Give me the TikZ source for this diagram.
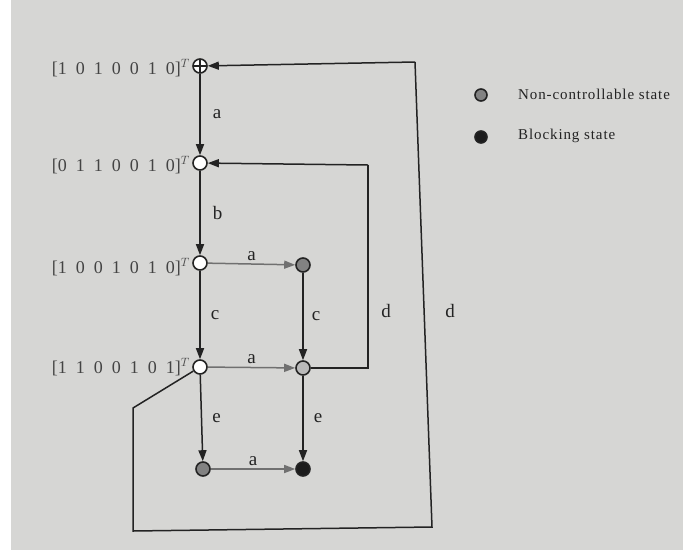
\documentclass[tikz,border=0pt]{standalone}
\usepackage{fontspec}
\setmainfont{Liberation Serif}
\usetikzlibrary{arrows.meta}
\definecolor{bg}{RGB}{214,214,212}
\definecolor{ink}{RGB}{35,35,35}
\definecolor{ncgray}{RGB}{130,130,130}
\tikzset{
  x=1pt, y=-1pt,
  st/.style={circle, draw=ink, line width=1.6pt, minimum size=14pt, inner sep=0pt},
  openst/.style={st, fill=white},
  ncst/.style={st, fill=ncgray},
  blockst/.style={st, fill=ink!80!black},
  edge/.style={draw=ink, line width=1.5pt, -{Triangle[length=11pt,width=8pt]}},
  hedge/.style={edge, draw=ink!65},
  loopline/.style={draw=ink, line width=1.5pt},
  lab/.style={font=\fontsize{19}{19}\selectfont, text=ink, inner sep=2pt},
  vec/.style={font=\fontsize{18}{18}\selectfont, text=ink!85, anchor=east, inner sep=0pt},
  legtext/.style={font=\fontsize{15}{15}\addfontfeatures{LetterSpace=6}\selectfont, text=ink, anchor=west, inner sep=0pt}
}
\begin{document}
\begin{tikzpicture}
\useasboundingbox (0,0) rectangle (683,550);
\fill[white] (0,0) rectangle (683,550);
\fill[bg] (11,0) rectangle (683,550);

% states
\node[st, fill=white, path picture={\draw[ink, line width=1.2pt] (path picture bounding box.north) -- (path picture bounding box.south) (path picture bounding box.west) -- (path picture bounding box.east);}] (A) at (200,66) {};
\node[openst] (B) at (200,163) {};
\node[openst] (C) at (200,263) {};
\node[openst] (D) at (200,367) {};
\node[ncst] (E) at (303,265) {};
\node[st, fill=ncgray!55] (F) at (303,368) {};
\node[ncst] (G) at (203,469) {};
\node[blockst] (H) at (303,469) {};

% marking vectors
\node[vec] (vA) at (190,68) {[1\,\,\,0\,\,\,1\,\,\,0\,\,\,0\,\,\,1\,\,\,0]$^{T}$};
\node[vec] (vB) at (190,165) {[0\,\,\,1\,\,\,1\,\,\,0\,\,\,0\,\,\,1\,\,\,0]$^{T}$};
\node[vec] (vC) at (190,267) {[1\,\,\,0\,\,\,0\,\,\,1\,\,\,0\,\,\,1\,\,\,0]$^{T}$};
\node[vec] (vD) at (190,367) {[1\,\,\,1\,\,\,0\,\,\,0\,\,\,1\,\,\,0\,\,\,1]$^{T}$};

% transitions
\draw[edge] (A) -- node[lab, right=10pt] {a} (B);
\draw[edge] (B) -- node[lab, right=10pt] {b} (C);
\draw[hedge] (C) -- node[lab, above=1pt] {a} (E);
\draw[edge] (C) -- node[lab, right=8pt] {c} (D);
\draw[edge] (E) -- node[lab, right=6pt] {c} (F);
\draw[hedge] (D) -- node[lab, above=1pt] {a} (F);
\draw[edge] (D) -- node[lab, right=8pt] {e} (G);
\draw[edge] (F) -- node[lab, right=8pt] {e} (H);
\draw[hedge] (G) -- node[lab, above=1pt] {a} (H);

% d loops
\coordinate (d1a) at (368,368);
\coordinate (d1b) at (368,165);
\draw[loopline] (F) -- (d1a) -- (d1b);
\draw[edge] (d1b) -- (B);
\node[lab] (ld1) at (386,311) {d};

\coordinate (d2a) at (133,408);
\coordinate (d2b) at (133,531);
\coordinate (d2c) at (432,527);
\coordinate (d2d) at (415,62);
\draw[loopline] (D) -- (d2a) -- (d2b) -- (d2c) -- (d2d);
\draw[edge] (d2d) -- (A);
\node[lab] (ld2) at (450,311) {d};

% legend
\node[ncst, minimum size=12pt] (L1) at (481,95) {};
\node[legtext] (L1t) at (518,94) {Non-controllable state};
\node[blockst, minimum size=12pt] (L2) at (481,137) {};
\node[legtext] (L2t) at (518,136) {Blocking state};
\end{tikzpicture}
\end{document}
